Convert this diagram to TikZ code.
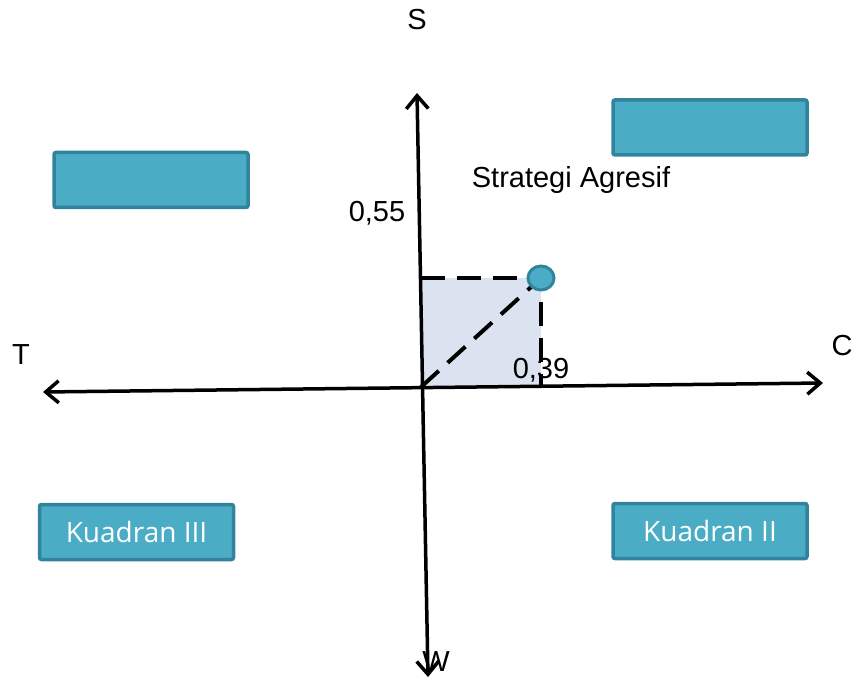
\documentclass[tikz,border=0pt]{standalone}
\usepackage{fontspec}
\setmainfont{Liberation Sans}
\newfontfamily\boxfont{Open Sans}
\usetikzlibrary{positioning,arrows.meta}
\definecolor{kotakfill}{HTML}{4BACC6}
\definecolor{kotakline}{HTML}{31849B}
\definecolor{arsir}{HTML}{DCE3F0}
\begin{document}
\begin{tikzpicture}[x=1pt,y=-1pt,
	kotak/.style={draw=kotakline,fill=kotakfill,line width=3.5pt,rounded corners=2pt,minimum width=194pt,minimum height=55pt,inner sep=0pt,text=white,font=\boxfont\fontsize{28}{28}\selectfont},
	teks/.style={font=\fontsize{29}{29}\selectfont,inner sep=0pt},
	sumbu/.style={{Straight Barb[length=13pt,width=22pt]}-{Straight Barb[length=13pt,width=22pt]},line width=3.5pt},
	putus/.style={line width=4pt,dash pattern=on 24pt off 12pt}]
		\useasboundingbox (0,0) rectangle (854,679);
		% sumbu
		\coordinate (kiri) at (43,392);
		\coordinate (kanan) at (823,383);
		\coordinate (atas) at (417,93);
		\coordinate (bawah) at (428,677);
		\coordinate (O) at (421,387);
		\coordinate (P) at (541,278);
		\fill[arsir] (O) rectangle (P);
		\draw[putus] (O |- P) -- (P) -- (P |- O);
		\draw[putus] (O) -- (P);
		\draw [sumbu] (kiri) -- (kanan);
		\draw [sumbu] (bawah) -- (atas);
		\filldraw[fill=kotakfill,draw=kotakline,line width=3pt] (P) ellipse (13pt and 12pt);
		% kotak kuadran
		\node[kotak] (k1) at (710,127.5) {};
		\node[kotak] (k4) at (151,180) {};
		\node[kotak] (k3) at (136.5,532) {Kuadran III};
		\node[kotak] (k2) at (710,531) {Kuadran II};
		% label
		\node[teks] (S) at (417,20) {S};
		\node[teks] (T) at (21,355) {T};
		\node[teks] (C) at (842,346) {C};
		\node[teks] (W) at (436,662) {W};
		\node[teks] (y55) at (377,213) {0,55};
		\node[teks] (x39) at (541,370) {0,39};
		\node[teks] (agresif) at (571,180) {Strategi Agresif};
\end{tikzpicture}
\end{document}
